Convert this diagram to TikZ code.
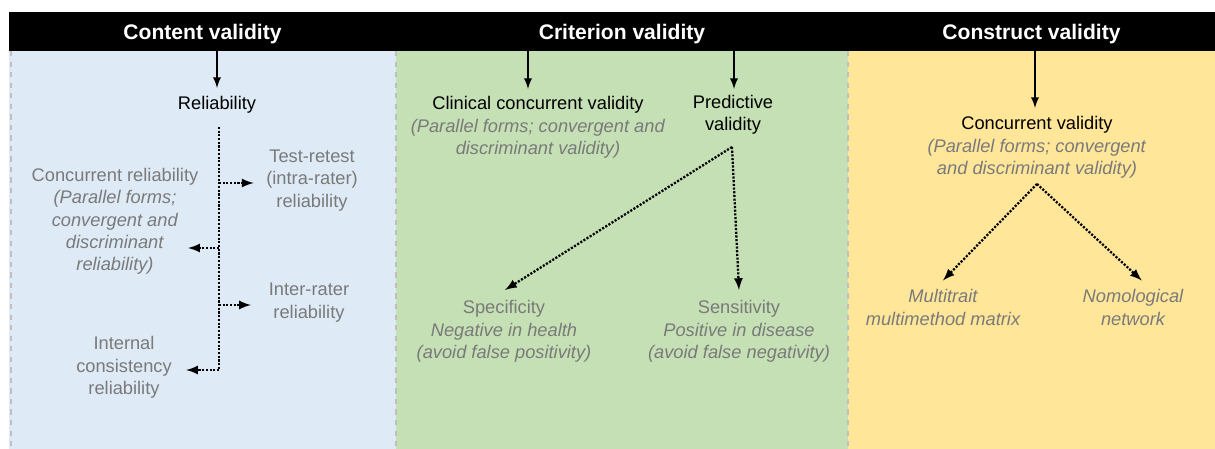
\documentclass[tikz,border=0pt]{standalone}
\usepackage{fontspec}
\setmainfont{Liberation Sans}
\usetikzlibrary{positioning}

\definecolor{paneblue}{HTML}{DEEAF6}
\definecolor{panegreen}{HTML}{C5E0B4}
\definecolor{paneyellow}{HTML}{FFE699}
\definecolor{softgray}{HTML}{7A7A7A}
\definecolor{bordergray}{HTML}{BFBFBF}

\tikzset{
  head/.style={fill=black, text=white, inner sep=0pt, minimum height=0.78cm,
    text height=12pt, text depth=2.5pt,
    font=\fontsize{12}{14}\selectfont\bfseries},
  lbl/.style={align=center, inner sep=1pt, font=\fontsize{10.4}{12.7}\selectfont},
  sublbl/.style={lbl, text=softgray},
  solidarrow/.style={-latex, line width=1.1pt},
  dotarrow/.style={-latex, line width=1.3pt, dash pattern=on 1.2pt off 0.9pt},
  dotline/.style={line width=1.3pt, dash pattern=on 1.2pt off 0.9pt},
}

\begin{document}
\begin{tikzpicture}[x={(0.02cm,0)}, y={(0,-0.02cm)}]
  \useasboundingbox (0,0) rectangle (1215,449);

  % panels
  \fill[paneblue] (9,51) rectangle (396,449);
  \fill[panegreen] (396,51) rectangle (848,449);
  \fill[paneyellow] (848,51) rectangle (1215,449);
  \draw[bordergray, dashed, line width=0.8pt] (11,51) -- (11,449);
  \draw[bordergray, dashed, line width=0.8pt] (396,51) -- (396,449);
  \draw[bordergray, dashed, line width=0.8pt] (848,51) -- (848,449);

  % header bar
  \node[head, minimum width=7.74cm] (conthead) at (202.5,31.5) {Content validity};
  \node[head, minimum width=9.04cm] (crithead) at (622,31.5) {Criterion validity};
  \node[head, minimum width=7.34cm] (constrhead) at (1031.5,31.5) {Construct validity};

  % content validity
  \node[lbl] (rel) at (217,104.5) {Reliability};
  \node[sublbl] (testretest) at (312,180.5) {Test-retest\\(intra-rater)\\reliability};
  \node[sublbl] (concrel) at (115,221.5) {Concurrent reliability\\\textit{(Parallel forms;}\\\textit{convergent and}\\\textit{discriminant}\\\textit{reliability)}};
  \node[sublbl] (interrater) at (309,302.5) {Inter-rater\\reliability};
  \node[sublbl] (internal) at (124,367.5) {Internal\\consistency\\reliability};

  \coordinate (reltop) at (217,88);
  \draw[solidarrow] (conthead.south -| reltop) -- (reltop);
  \coordinate (trunktop) at (219,127);
  \coordinate (trunkbot) at (219,370);
  \draw[dotline] (trunktop) -- (trunkbot);
  \coordinate (br1) at (219,183);
  \coordinate (br2) at (219,248);
  \coordinate (br3) at (219,305);
  \draw[dotarrow] (br1) -- ([xshift=-6pt]br1 -| testretest.west);
  \draw[dotarrow] (br2) -- ([xshift=-7pt]br2 -| concrel.east);
  \draw[dotarrow] (br3) -- ([xshift=-9pt]br3 -| interrater.west);
  \draw[dotarrow] (trunkbot) -- ([xshift=7pt]trunkbot -| internal.east);

  % criterion validity
  \node[lbl] (clinconc) at (538,127.5) {Clinical concurrent validity\\\textcolor{softgray}{\textit{(Parallel forms; convergent and}}\\\textcolor{softgray}{\textit{discriminant validity)}}};
  \node[lbl] (predictive) at (733,115) {Predictive\\validity};
  \node[sublbl] (specif) at (504,331.5) {Specificity\\\textit{Negative in health}\\\textit{(avoid false positivity)}};
  \node[sublbl] (sensit) at (739,331.5) {Sensitivity\\\textit{Positive in disease}\\\textit{(avoid false negativity)}};

  \coordinate (clintop) at (528,89);
  \coordinate (predtop) at (734,89);
  \draw[solidarrow] (crithead.south -| clintop) -- (clintop);
  \draw[solidarrow] (crithead.south -| predtop) -- (predtop);
  \coordinate (predfork) at (732,147);
  \coordinate (specend) at (505,290);
  \coordinate (sensend) at (739,290);
  \draw[dotarrow] (predfork) -- (specend);
  \draw[dotarrow] (predfork) -- (sensend);

  % construct validity
  \node[lbl] (concval) at (1037,147.5) {Concurrent validity\\\textcolor{softgray}{\textit{(Parallel forms; convergent}}\\\textcolor{softgray}{\textit{and discriminant validity)}}};
  \node[sublbl, font=\fontsize{10.4}{12.7}\selectfont\itshape] (mtmm) at (943,307.5) {Multitrait\\multimethod matrix};
  \node[sublbl, font=\fontsize{10.4}{12.7}\selectfont\itshape] (nomol) at (1133,307.5) {Nomological\\network};

  \coordinate (concvaltop) at (1035,108);
  \draw[solidarrow] (constrhead.south -| concvaltop) -- (concvaltop);
  \coordinate (concfork) at (1037,184);
  \draw[dotarrow] (concfork) -- ([yshift=4pt]mtmm.north);
  \draw[dotarrow] (concfork) -- ([xshift=5pt, yshift=4pt]nomol.north);
\end{tikzpicture}
\end{document}
